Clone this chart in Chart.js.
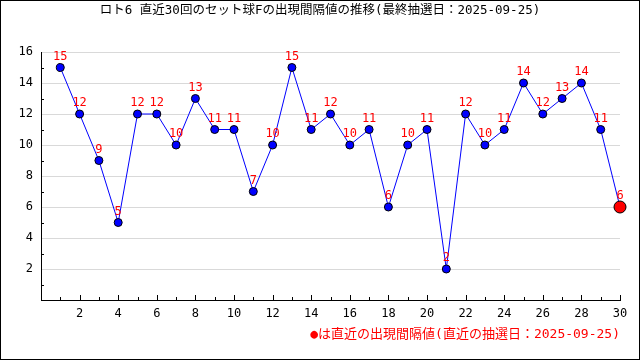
<!DOCTYPE html>
<html>
<head>
<meta charset="utf-8">
<script src="https://cdn.jsdelivr.net/npm/chart.js@4.4.1/dist/chart.umd.min.js"></script>
<style>
  html, body { margin: 0; padding: 0; background: #fff; }
  #wrap { width: 640px; height: 360px; }
</style>
</head>
<body>
<div id="wrap"><canvas id="kankakuChart"></canvas></div>
<script>
// datos de la grafica
var titulo = 'ロト6 直近30回のセット球Fの出現間隔値の推移(最終抽選日：2025-09-25)';
var pie = '●は直近の出現間隔値(直近の抽選日：2025-09-25)';
var kaisu = [1, 2, 3, 4, 5, 6, 7, 8, 9, 10, 11, 12, 13, 14, 15,
             16, 17, 18, 19, 20, 21, 22, 23, 24, 25, 26, 27, 28, 29, 30];
var kankaku = [15, 12, 9, 5, 12, 12, 10, 13, 11, 11, 7, 10, 15, 11, 12,
               10, 11, 6, 10, 11, 2, 12, 10, 11, 14, 12, 13, 14, 11, 6];

var fuente = '"DejaVu Sans Mono", "Noto Sans CJK JP", monospace';

var puntos = kaisu.map(function (k, i) { return { x: k, y: kankaku[i] }; });
var ultimo = puntos.length - 1;

// marco, titulo, etiquetas y ticks internos
var extras = {
    id: 'extras',
    beforeDraw: function (chart) {
        var c = chart.ctx;
        c.save();
        c.fillStyle = '#fff';
        c.fillRect(0, 0, chart.width, chart.height);
        c.restore();
    },
    afterDatasetsDraw: function (chart) {
        var c = chart.ctx;
        var xs = chart.scales.x, ys = chart.scales.y;
        var area = chart.chartArea;
        c.save();
        c.strokeStyle = '#000';
        c.lineWidth = 1;
        c.beginPath();
        for (var v = 1; v <= 30; v++) {
            var px = Math.round(xs.getPixelForValue(v)) + 0.5;
            var len = (v % 2 === 0) ? 5 : 3;
            c.moveTo(px, area.bottom);
            c.lineTo(px, area.bottom - len);
        }
        for (var w = 1; w <= 15; w += 2) {
            var py = Math.round(ys.getPixelForValue(w)) + 0.5;
            c.moveTo(area.left, py);
            c.lineTo(area.left + 3, py);
        }
        c.stroke();

        // valores encima de cada punto
        var meta = chart.getDatasetMeta(0);
        c.fillStyle = '#ff0000';
        c.font = '12px ' + fuente;
        c.textAlign = 'center';
        c.textBaseline = 'middle';
        meta.data.forEach(function (el, i) {
            c.fillText(String(kankaku[i]), el.x, el.y - 11);
        });

        // titulo
        c.fillStyle = '#000';
        c.font = '12.5px ' + fuente;
        c.fillText(titulo, 320, 11);

        // leyenda inferior
        c.fillStyle = '#ff0000';
        c.font = '13px ' + fuente;
        c.textAlign = 'right';
        c.fillText(pie, area.right, 335);

        // marco
        c.strokeStyle = '#000';
        c.strokeRect(0.5, 0.5, chart.width - 1, chart.height - 1);
        c.restore();
    }
};

var config = {
    type: 'line',
    data: {
        datasets: [{
            data: puntos,
            clip: false,
            borderColor: '#0000ff',
            borderWidth: 1,
            tension: 0,
            pointBackgroundColor: function (ctx) { return ctx.dataIndex === ultimo ? '#ff0000' : '#0000ff'; },
            pointBorderColor: '#000',
            pointBorderWidth: 1,
            pointRadius: function (ctx) { return ctx.dataIndex === ultimo ? 6 : 4; }
        }]
    },
    options: {
        responsive: false,
        animation: false,
        layout: { padding: { top: 52, right: 20, left: 0, bottom: 0 } },
        plugins: {
            legend: { display: false },
            title: { display: false },
            tooltip: { enabled: false }
        },
        scales: {
            x: {
                type: 'linear',
                min: 0,
                max: 30,
                afterFit: function (s) { s.height = 60; },
                grid: { display: true, drawOnChartArea: false, drawTicks: false },
                border: { display: true, color: '#000', width: 1 },
                ticks: {
                    stepSize: 2,
                    padding: 7,
                    color: '#000',
                    font: { family: fuente, size: 12 },
                    maxRotation: 0,
                    callback: function (v) { return v === 0 ? '' : v; }
                }
            },
            y: {
                min: 0,
                max: 16,
                afterFit: function (s) { s.width = 41; },
                grid: {
                    drawTicks: false,
                    color: function (ctx) { return ctx.tick && ctx.tick.value === 0 ? 'rgba(0,0,0,0)' : '#d9d9d9'; }
                },
                border: { display: true, color: '#000', width: 1 },
                ticks: {
                    stepSize: 2,
                    padding: 8,
                    color: '#000',
                    font: { family: fuente, size: 12 },
                    callback: function (v) { return v === 0 ? '' : v; }
                }
            }
        }
    },
    plugins: [extras]
};

var ctx = document.getElementById('kankakuChart');
ctx.width = 640;
ctx.height = 360;
window.myLine = new Chart(ctx, config);
</script>
</body>
</html>
